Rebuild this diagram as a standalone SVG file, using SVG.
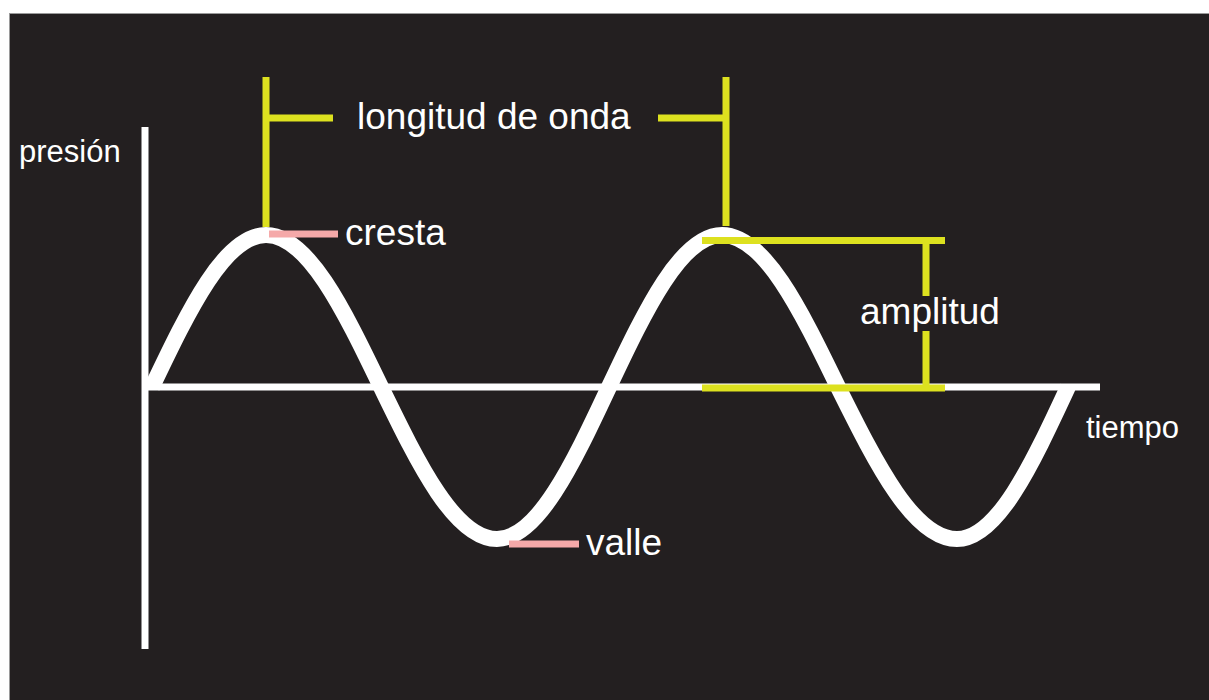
<svg xmlns="http://www.w3.org/2000/svg" width="1209" height="700" viewBox="0 0 1209 700">
  <style>
    .lbl { font-family: "Liberation Sans", Arial, sans-serif; fill: #ffffff; }
    .big { font-size: 37px; }
    .small { font-size: 31px; }
    .axis { stroke: #ffffff; stroke-width: 7; fill: none; }
    .wave { stroke: #ffffff; stroke-width: 16; fill: none; }
    .yel { stroke: #dde11f; stroke-width: 7; fill: none; }
    .pink { stroke: #f5a9a9; stroke-width: 7; fill: none; }
  </style>
  <rect x="0" y="0" width="1209" height="700" fill="#ffffff"/>
  <rect x="9.5" y="13.5" width="1200" height="687" fill="#231f20" stroke="#9a9a9a" stroke-width="1"/>

  <g id="connectors">
    <path id="wave" class="wave" d="M152,387 C189.2,309.1 224.7,235 266,235 C307.6,235 343.5,309.1 381,387 C418.8,464.9 455,539 497,539 C537.5,539 572.5,464.9 609,387 C645.8,309.1 681.1,235 722,235 C764,235 800.2,309.1 838,387 C876.8,464.9 913.9,539 957,539 C997.2,539 1031.8,464.9 1068,387"/>
    <line class="axis" x1="145" y1="127" x2="145" y2="649"/>
    <line class="axis" x1="142" y1="387" x2="1100" y2="387"/>
    <!-- wavelength bracket -->
    <line class="yel" x1="266" y1="77" x2="266" y2="227"/>
    <line class="yel" x1="266" y1="118" x2="333" y2="118"/>
    <line class="yel" x1="726" y1="77" x2="726" y2="226"/>
    <line class="yel" x1="658" y1="118" x2="726" y2="118"/>
    <!-- amplitude bracket -->
    <line class="yel" x1="702" y1="240.5" x2="945" y2="240.5"/>
    <line class="yel" x1="702" y1="388" x2="945" y2="388"/>
    <line class="yel" x1="926" y1="240" x2="926" y2="296"/>
    <line class="yel" x1="926" y1="331" x2="926" y2="388"/>
    <!-- crest / trough markers -->
    <line class="pink" x1="269" y1="234" x2="338" y2="234"/>
    <line class="pink" x1="509" y1="544" x2="579" y2="544"/>
  </g>

  <g id="presion"><text class="lbl small" x="19" y="162">presión</text></g>
  <g id="tiempo"><text class="lbl small" x="1086" y="438">tiempo</text></g>
  <g id="longitud"><text class="lbl big" x="357" y="129">longitud de onda</text></g>
  <g id="cresta"><text class="lbl big" x="345" y="245">cresta</text></g>
  <g id="valle"><text class="lbl big" x="586" y="555">valle</text></g>
  <g id="amplitud"><text class="lbl big" x="860" y="324">amplitud</text></g>
</svg>
